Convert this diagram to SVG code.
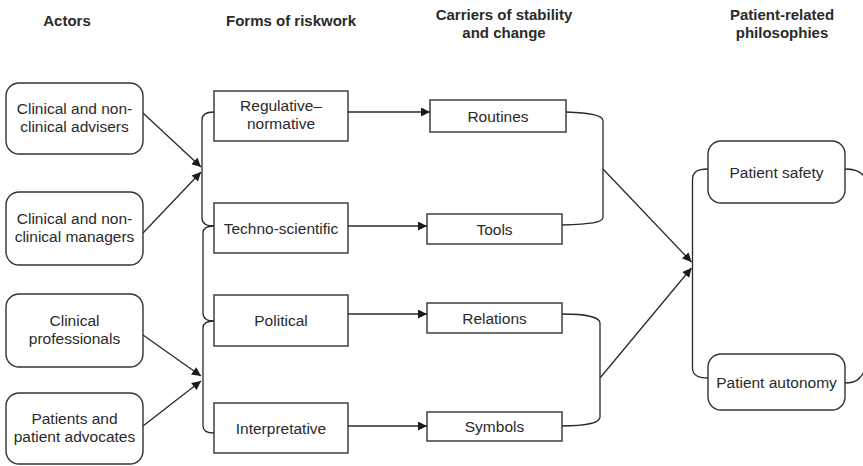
<svg xmlns="http://www.w3.org/2000/svg" width="863" height="466" viewBox="0 0 863 466">
<style>
.box{fill:#fff;stroke:#333;stroke-width:1.4}
.t{font-family:"Liberation Sans",Arial,sans-serif;font-size:15.5px;fill:#2a2a2a;text-anchor:middle}
.h{font-family:"Liberation Sans",Arial,sans-serif;font-size:15px;font-weight:bold;fill:#2a2a2a;text-anchor:middle}
.ln{fill:none;stroke:#2a2a2a;stroke-width:1.3}
</style>
<defs>
<marker id="ah" viewBox="0 0 10 10" refX="10" refY="5" markerWidth="10" markerHeight="9" markerUnits="userSpaceOnUse" orient="auto">
<path d="M0,0 L10,5 L0,10 z" fill="#1a1a1a"/>
</marker>
</defs>
<rect width="863" height="466" fill="#fff"/>
<g id="headers">
<text class="h" x="67" y="26">Actors</text>
<text class="h" x="291" y="26">Forms of riskwork</text>
<text class="h" x="504" y="20">Carriers of stability</text>
<text class="h" x="504" y="38">and change</text>
<text class="h" x="782" y="20">Patient-related</text>
<text class="h" x="782" y="38">philosophies</text>
</g>
<g id="connectors">
<line class="ln" x1="143" y1="113" x2="201" y2="167" marker-end="url(#ah)"/>
<line class="ln" x1="143" y1="233" x2="201" y2="172" marker-end="url(#ah)"/>
<line class="ln" x1="143" y1="335" x2="201" y2="376" marker-end="url(#ah)"/>
<line class="ln" x1="143" y1="426" x2="201" y2="381" marker-end="url(#ah)"/>
<path class="ln" d="M214,112 C206,112 202,114 202,120 L202,218 C202,224 206,226 214,226"/>
<path class="ln" d="M214,226 C207,226 203,228 203,233 L203,313 C203,318 207,321 214,321"/>
<path class="ln" d="M214,321 C207,321 203,323 203,328 L203,426 C203,431 207,433 214,433"/>
<line class="ln" x1="348" y1="112" x2="430" y2="112" marker-end="url(#ah)"/>
<line class="ln" x1="348" y1="226" x2="427" y2="226" marker-end="url(#ah)"/>
<line class="ln" x1="348" y1="314" x2="427" y2="314" marker-end="url(#ah)"/>
<line class="ln" x1="348" y1="426" x2="427" y2="426" marker-end="url(#ah)"/>
<path class="ln" d="M566,112 C590,113 603,115 603,121 L603,217 C603,223 590,224 562,225"/>
<path class="ln" d="M562,314 C585,314 600,317 600,323 L600,417 C600,423 585,426 562,426"/>
<line class="ln" x1="603" y1="169" x2="691.5" y2="262" marker-end="url(#ah)"/>
<line class="ln" x1="600" y1="378" x2="691.5" y2="268" marker-end="url(#ah)"/>
<path class="ln" d="M708,169 C697,169 692.5,172 692.5,180 L692.5,368 C692.5,375 697,378 708,378"/>
<path class="ln" d="M845,169 C856,169 863,172 866,180 M845,383 C856,383 861,379 866,368"/>
</g>
<g id="n-advisers">
<rect class="box" x="6" y="83" width="137" height="71" rx="13"/>
<text class="t" x="74.5" y="114">Clinical and non-</text>
<text class="t" x="74.5" y="132">clinical advisers</text>
</g>
<g id="n-managers">
<rect class="box" x="6" y="192" width="137" height="73" rx="13"/>
<text class="t" x="74.5" y="224">Clinical and non-</text>
<text class="t" x="74.5" y="242">clinical managers</text>
</g>
<g id="n-professionals">
<rect class="box" x="6" y="294" width="137" height="73" rx="13"/>
<text class="t" x="74.5" y="326">Clinical</text>
<text class="t" x="74.5" y="344">professionals</text>
</g>
<g id="n-patients">
<rect class="box" x="6" y="393" width="137" height="71" rx="13"/>
<text class="t" x="74.5" y="424">Patients and</text>
<text class="t" x="74.5" y="442">patient advocates</text>
</g>
<g id="n-regulative">
<rect class="box" x="214" y="91" width="134" height="50"/>
<text class="t" x="281" y="111">Regulative–</text>
<text class="t" x="281" y="129">normative</text>
</g>
<g id="n-techno">
<rect class="box" x="214" y="203" width="134" height="50"/>
<text class="t" x="281" y="233.5">Techno-scientific</text>
</g>
<g id="n-political">
<rect class="box" x="214" y="295" width="134" height="51"/>
<text class="t" x="281" y="326">Political</text>
</g>
<g id="n-interpretative">
<rect class="box" x="214" y="403" width="134" height="50"/>
<text class="t" x="281" y="433.5">Interpretative</text>
</g>
<g id="n-routines">
<rect class="box" x="430" y="100" width="136" height="32"/>
<text class="t" x="498" y="121.5">Routines</text>
</g>
<g id="n-tools">
<rect class="box" x="427" y="214" width="135" height="30"/>
<text class="t" x="494.5" y="234.5">Tools</text>
</g>
<g id="n-relations">
<rect class="box" x="427" y="303" width="135" height="30"/>
<text class="t" x="494.5" y="323.5">Relations</text>
</g>
<g id="n-symbols">
<rect class="box" x="427" y="412" width="135" height="29"/>
<text class="t" x="494.5" y="432">Symbols</text>
</g>
<g id="n-safety">
<rect class="box" x="708" y="141" width="137" height="62" rx="13"/>
<text class="t" x="776.5" y="177.5">Patient safety</text>
</g>
<g id="n-autonomy">
<rect class="box" x="708" y="354" width="137" height="56" rx="13"/>
<text class="t" x="776.5" y="387.5">Patient autonomy</text>
</g>
</svg>
